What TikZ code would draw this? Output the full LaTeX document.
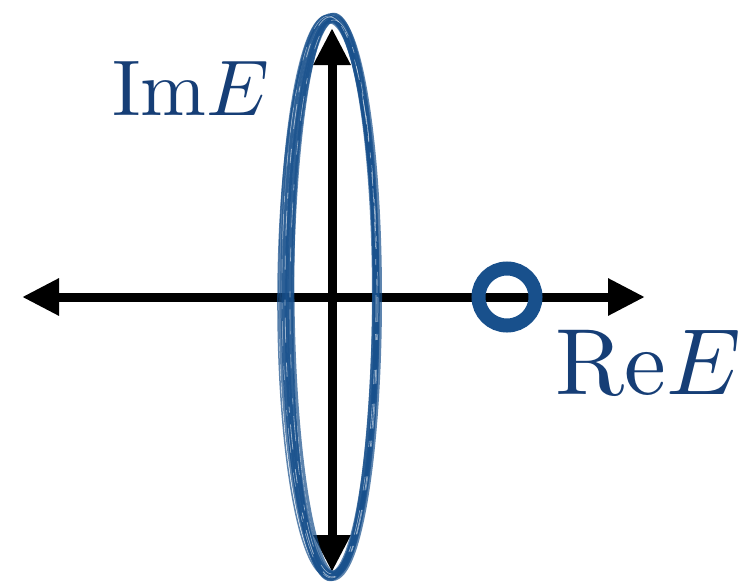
\documentclass[tikz,border=0pt]{standalone}
\usetikzlibrary{arrows.meta}
\definecolor{brush}{RGB}{24,80,140}
\definecolor{labelblue}{RGB}{22,62,118}
\tikzset{
  axis/.style={line width=9pt, black, -{Triangle[length=37pt,width=35pt]}},
  brushstroke/.style={brush, line width=#1, opacity=0.7},
  streak/.style={white, line width=#1, opacity=0.55, dash pattern=on 25pt off 12pt on 6pt off 30pt on 14pt off 20pt},
  ring/.style={brush, line width=14pt},
  axlabel/.style={labelblue, inner sep=0pt, anchor=base west}
}
\begin{document}
\begin{tikzpicture}[x=1pt,y=-1pt]
\useasboundingbox (0,0) rectangle (750,584);
\coordinate (O) at (332,297);
\coordinate (L) at (22,297);
\coordinate (R) at (645,297);
\coordinate (T) at (332,28);
\coordinate (B) at (332,572);
\draw[axis] (O) -- (L);
\draw[axis] (O) -- (R);
\draw[axis] (O) -- (T);
\draw[axis] (O) -- (B);
% brush-like ellipse
\foreach \rx/\ry/\dx/\rot/\w in {45/279/0/0/10pt, 47/280/-2/0.4/5pt, 43/278/1/-0.3/5pt, 49/281/-3/0.3/3pt, 41/277/2/0.5/3pt, 46/283/0/-0.4/2.5pt, 44/275/-1/0.3/3pt, 50/279/-4/-0.2/1.5pt, 40/281/1/-0.5/1.5pt}{
  \draw[brushstroke=\w, rotate around={\rot:(O)}] ([xshift=\dx pt]O) ellipse [x radius=\rx, y radius=\ry];
}
\foreach \rx/\ry/\dx/\rot/\w in {46/280/-1/0.2/0.8pt, 43/277/1/-0.2/0.6pt, 48/281/-2/0.3/0.5pt}{
  \draw[streak=\w, rotate around={\rot:(O)}] ([xshift=\dx pt]O) ellipse [x radius=\rx, y radius=\ry];
}
\node[circle, minimum size=57pt, inner sep=0pt, draw=none] (ringnode) at (507,297) {};
\draw[ring] (ringnode.center) circle [radius=28.5];
\node[axlabel] (im) at (112,115) {\scalebox{7.9}{$\mathrm{Im}E$}};
\node[axlabel] (re) at (555,394) {\scalebox{9.4}{$\mathrm{Re}E$}};
\end{tikzpicture}
\end{document}
